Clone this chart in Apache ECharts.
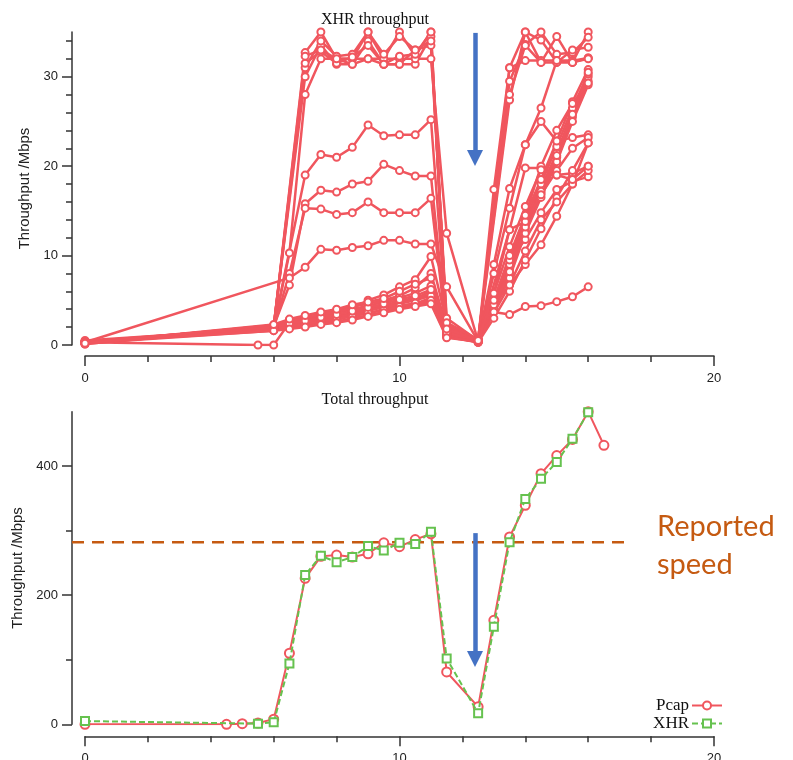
<!DOCTYPE html>
<html>
<head>
<meta charset="utf-8">
<script src="https://cdn.jsdelivr.net/npm/echarts@6/dist/echarts.min.js"></script>
<style>
  html, body { margin: 0; padding: 0; background: #fff; }
</style>
</head>
<body>
<div id="chart" style="width: 793px; height: 760px;"></div>
<script>
// time (s) of each XHR sample, shared by all flows of the top panel
const xhrTimes = [0, 5.5, 6, 6.5, 7, 7.5, 8, 8.5, 9, 9.5, 10, 10.5, 11, 11.5, 12.5, 13, 13.5, 14, 14.5, 15, 15.5, 16];
const n = null;

// per-flow XHR throughput (Mbps), null = no sample at that time
const flowH1 = [0.3, n, 2.0, n, 32.7, 35.0, 32.0, 32.0, 35.0, 32.0, 35.0, 32.3, 35.0, 1.5, 0.5, 17.4, 31.0, 35.0, 31.6, 34.5, 31.6, 35.0];
const flowH2 = [0.2, n, 2.2, n, 30.0, 33.5, 31.4, 31.4, 34.0, 31.4, 31.4, 31.4, 34.5, 2.0, 0.6, n, 29.5, 33.6, 35.0, 32.5, 32.7, 34.4];
const flowH3 = [0.4, n, 1.8, 10.3, 28.0, 32.0, 32.0, 32.0, 32.0, 32.0, 32.0, 32.0, 32.0, 12.5, 0.4, n, 27.4, 35.0, 34.1, 31.6, 33.0, 33.3];
const flowH4 = [0.3, n, 2.0, n, 31.0, 34.0, 32.3, 32.5, 35.0, 32.5, 34.5, 33.0, 33.5, 2.5, 0.5, n, 31.0, 31.8, 31.8, 31.8, 31.8, 32.1];
const flowH5 = [0.1, n, 2.1, n, 31.5, 32.8, 31.5, 32.2, 33.5, 31.4, 32.3, 32.5, 35.0, 1.8, 0.7, n, 28.0, 33.5, 31.6, 31.6, 31.6, 32.1];
const flowH6 = [0.3, n, 1.9, n, 32.3, 33.0, 32.0, 31.4, 32.0, 31.4, 31.4, 33.0, 34.0, 3.0, 0.5, 9.0, 17.5, 22.4, 26.5, 31.8, 31.6, 32.0];
const flowM1 = [0.3, n, 2.0, n, 19.0, 21.3, 21.0, 22.1, 24.6, 23.4, 23.5, 23.5, 25.2, 2.2, 0.5, 8.0, 15.3, 22.4, 25.0, 22.8, 23.2, 23.5];
const flowM2 = [0.2, n, 2.1, 6.7, 15.8, 17.3, 17.1, 18.0, 18.3, 20.2, 19.5, 18.9, 18.9, 1.6, 0.4, 5.8, 12.9, 19.8, 19.8, 19.0, 19.2, 20.0];
const flowM3 = [0.3, n, 1.9, 8.0, 15.3, 15.2, 14.6, 14.8, 16.0, 14.8, 14.8, 14.8, 16.4, 1.2, 0.5, 4.0, 9.5, 11.8, 14.8, 17.4, 18.3, 18.8];
const flowM4 = [0.3, n, n, 7.5, 8.7, 10.7, 10.6, 10.9, 11.1, 11.7, 11.7, 11.3, 11.3, 6.5, 0.4, 4.5, 6.7, 9.0, 11.2, 14.4, 18.0, 22.6];
const flowL1 = [0.3, 0.0, 0.0, 2.5, 2.8, 3.2, 3.0, 3.5, 3.8, 4.3, 4.8, 5.2, 6.0, 1.0, 0.3, 3.7, 3.4, 4.3, 4.4, 4.85, 5.4, 6.5];
const flowL2 = [0.2, n, 1.6, 2.0, 2.2, 2.6, 2.8, 3.3, 3.5, 4.0, 4.4, 4.6, 5.3, 1.1, 0.4, n, 8.0, 13.0, 17.0, 21.0, 25.5, 29.5];
const flowL3 = [0.4, n, 1.8, 2.2, 2.6, 2.9, 3.2, 3.6, 4.0, 4.4, 4.9, 5.3, 5.6, 1.3, 0.5, n, 8.5, 13.5, 17.5, 21.5, 26.0, 30.0];
const flowL4 = [0.1, n, 2.0, 2.5, 2.9, 3.3, 3.6, 4.0, 4.4, 4.8, 5.3, 5.8, 6.6, 1.5, 0.6, n, 9.0, 14.0, 18.0, 22.2, 26.5, 30.3];
const flowL5 = [0.3, n, 1.7, 1.9, 2.1, 2.4, 2.6, 3.0, 3.3, 3.7, 4.1, 4.5, 4.8, 0.9, 0.3, n, 7.5, 12.5, 16.5, 20.5, 25.0, 29.1];
const flowL6 = [0.2, n, 2.2, 2.8, 3.2, 3.6, 3.8, 4.3, 4.6, 5.0, 5.5, 6.4, 8.0, 2.0, 0.5, n, 9.5, 14.5, 18.5, 22.8, 27.2, 30.8];
const flowL7 = [0.5, n, 1.9, 2.3, 2.4, 2.8, 3.1, 3.4, 3.9, 4.2, 4.6, 5.0, 5.5, 1.2, 0.4, n, 8.2, 13.2, 17.2, 21.2, 25.8, 30.5];
const flowL8 = [0.3, n, 2.1, 2.6, 3.0, 3.4, 3.7, 4.1, 5.0, 5.6, 6.5, 7.3, 9.9, 2.5, 0.6, n, 12.9, 13.8, 16.8, 19.5, 22.0, 23.2];
const flowL9 = [0.2, n, 1.8, 2.1, 2.3, 2.7, 2.9, 3.2, 3.6, 3.9, 4.3, 4.7, 5.0, 1.0, 0.3, 3.0, 6.0, 9.5, 13.0, 16.5, 19.5, 22.6];
const flowL10 = [0.4, n, 2.0, 2.4, 2.7, 3.1, 3.4, 3.8, 4.2, 4.6, 5.1, 5.5, 6.2, 1.4, 0.5, n, 6.7, 10.5, 14.0, 16.0, 18.0, 19.5];
const flowL11 = [0.3, n, 1.6, 1.8, 2.0, 2.3, 2.5, 2.8, 3.2, 3.6, 4.0, 4.3, 4.6, 0.8, 0.4, 5.0, 10.0, 14.5, 20.0, 24.0, 27.0, 29.3];
const flowL12 = [0.2, n, 2.3, 2.9, 3.3, 3.7, 4.0, 4.5, 4.8, 5.2, 6.0, 6.8, 7.5, 1.8, 0.5, n, 11.0, 15.5, 19.6, 19.0, 18.5, 20.0];

const xhrFlows = [flowH1, flowH2, flowH3, flowH4, flowH5, flowH6, flowM1, flowM2, flowM3, flowM4,
  flowL1, flowL2, flowL3, flowL4, flowL5, flowL6, flowL7, flowL8, flowL9, flowL10, flowL11, flowL12];

// bottom panel: total throughput
const pcapTimes = [0, 4.5, 5, 5.5, 6, 6.5, 7, 7.5, 8, 8.5, 9, 9.5, 10, 10.5, 11, 11.5, 12.5, 13, 13.5, 14, 14.5, 15, 15.5, 16, 16.5];
const pcapRate = [0, 0, 1, 2, 8, 110, 226, 260, 262, 259, 264, 281, 275, 286, 295, 81, 27, 161, 290, 339, 388, 416, 441, 484, 432];
const xhrTotalTimes = [0, 5.5, 6, 6.5, 7, 7.5, 8, 8.5, 9, 9.5, 10, 10.5, 11, 11.5, 12.5, 13, 13.5, 14, 14.5, 15, 15.5, 16];
const xhrTotalRate = [5, 1, 3, 94, 231, 261, 251, 259, 276, 269, 281, 279, 298, 102, 17, 151, 282, 349, 380, 406, 442, 483];

// reported speed, drawn from the y axis line (x = -0.413) to x = 17.2
const reportedSpeed = 282;
const reportedSpan = [-0.413, 17.2];
const topArrow = [[12.4, 34.9], [12.4, 20.9]];
const bottomArrow = [[12.4, 296], [12.4, 101]];

// ticks
const xLabelTicks = [0, 10, 20];
const xMinorTicks = [2, 4, 6, 8, 12, 14, 16, 18];
const topYLabels = [0, 10, 20, 30];
const topYMinor = [2, 4, 6, 8, 12, 14, 16, 18, 22, 24, 26, 28, 32, 34];
const bottomYLabels = [0, 200, 400];
const bottomYMinor = [100, 300];

const RED = "#F0565E";
const GREEN = "#66C24F";
const ORANGE = "#C55A11";
const BLUE = "#4472C4";
const AXIS = "#333";

function mainAxis(extra) {
  return Object.assign({
    type: "value",
    axisLine: { show: true, onZero: false, lineStyle: { color: AXIS, width: 1.5 } },
    splitLine: { show: false },
  }, extra);
}

function minorAxis(extra, ticks) {
  return Object.assign({
    type: "value",
    axisLine: { show: false, onZero: false },
    splitLine: { show: false },
    axisLabel: { show: false },
    axisTick: { show: true, length: 6, customValues: ticks, lineStyle: { color: AXIS, width: 1.5 } },
  }, extra);
}

const chart = echarts.init(document.getElementById("chart"));

const topSeries = xhrFlows.map((flow, k) => ({
  name: "flow" + (k + 1),
  type: "line",
  xAxisIndex: 0,
  yAxisIndex: 0,
  data: xhrTimes.map((t, i) => [t, flow[i]]),
  connectNulls: true,
  symbol: "emptyCircle",
  symbolSize: 7,
  lineStyle: { color: RED, width: 2.5 },
  itemStyle: { color: RED, borderWidth: 0.8 },
  silent: true,
}));

topSeries[0].markLine = {
  silent: true,
  symbol: ["none", "triangle"],
  symbolSize: [16, 16],
  label: { show: false },
  lineStyle: { color: BLUE, width: 4.5, type: "solid" },
  data: [[{ coord: topArrow[0] }, { coord: topArrow[1] }]],
};

const labelStyle = { color: "#222", fontFamily: "Liberation Sans", fontSize: 13 };

const options = {
  animation: false,
  title: [
    {
      text: "XHR throughput", left: 370, top: 7, textAlign: "center",
      textStyle: { fontFamily: "Liberation Serif", fontSize: 16, fontWeight: "normal", color: "#111" },
    },
    {
      text: "Total throughput", left: 370, top: 387, textAlign: "center",
      textStyle: { fontFamily: "Liberation Serif", fontSize: 16, fontWeight: "normal", color: "#111" },
    },
  ],
  legend: {
    data: ["Pcap", "XHR"],
    orient: "vertical",
    align: "right",
    right: 65,
    top: 692,
    itemWidth: 30,
    itemHeight: 10,
    itemGap: 1,
    textStyle: { fontFamily: "Liberation Serif", fontSize: 17, lineHeight: 17, color: "#111", padding: [0, -2, 0, 0] },
  },
  grid: [
    { left: 85, right: 79, top: 32, height: 313, outerBoundsMode: "none" },
    { left: 85, right: 79, top: 411.7, height: 312.6, outerBoundsMode: "none" },
    // overlay grid that starts at the y axis line, used only for the reported-speed line
    { left: 72, right: 79, top: 411.7, height: 312.6, outerBoundsMode: "none" },
  ],
  xAxis: [
    mainAxis({
      gridIndex: 0, min: 0, max: 20, offset: 11,
      axisTick: { show: true, length: 10, customValues: xLabelTicks, lineStyle: { color: AXIS, width: 1.5 } },
      axisLabel: Object.assign({ margin: 16, customValues: xLabelTicks }, labelStyle),
    }),
    minorAxis({ gridIndex: 0, min: 0, max: 20, offset: 11, position: "bottom" }, xMinorTicks),
    mainAxis({
      gridIndex: 1, min: 0, max: 20, offset: 12,
      axisTick: { show: true, length: 10, customValues: xLabelTicks, lineStyle: { color: AXIS, width: 1.5 } },
      axisLabel: Object.assign({ margin: 16, customValues: xLabelTicks }, labelStyle),
    }),
    minorAxis({ gridIndex: 1, min: 0, max: 20, offset: 12, position: "bottom" }, xMinorTicks),
    { type: "value", gridIndex: 2, min: reportedSpan[0], max: 20, show: false },
  ],
  yAxis: [
    mainAxis({
      gridIndex: 0, min: 0, max: 35, offset: 13,
      name: "Throughput /Mbps", nameLocation: "middle", nameGap: 39,
      nameTextStyle: { fontFamily: "Liberation Sans", fontSize: 15, color: "#222" },
      axisTick: { show: true, length: 10, customValues: topYLabels, lineStyle: { color: AXIS, width: 1.5 } },
      axisLabel: Object.assign({ margin: 14, customValues: topYLabels }, labelStyle),
    }),
    minorAxis({ gridIndex: 0, min: 0, max: 35, offset: 13, position: "left" }, topYMinor),
    mainAxis({
      gridIndex: 1, min: 0, max: 484, offset: 13,
      name: "Throughput /Mbps", nameLocation: "middle", nameGap: 45,
      nameTextStyle: { fontFamily: "Liberation Sans", fontSize: 15, color: "#222" },
      axisTick: { show: true, length: 10, customValues: bottomYLabels, lineStyle: { color: AXIS, width: 1.5 } },
      axisLabel: Object.assign({ margin: 14, customValues: bottomYLabels }, labelStyle),
    }),
    minorAxis({ gridIndex: 1, min: 0, max: 484, offset: 13, position: "left" }, bottomYMinor),
    { type: "value", gridIndex: 2, min: 0, max: 484, show: false },
  ],
  graphic: [
    {
      type: "text", left: 657, top: 508, silent: true,
      style: { text: "Reported\nspeed", fill: ORANGE, font: "29px Lato", lineHeight: 38 },
    },
  ],
  series: topSeries.concat([
    {
      name: "reported",
      type: "line",
      xAxisIndex: 4,
      yAxisIndex: 4,
      data: reportedSpan.map((t) => [t, reportedSpeed]),
      symbol: "none",
      silent: true,
      lineStyle: { color: ORANGE, width: 2.5, type: [12, 8] },
      z: 1,
    },
    {
      name: "Pcap",
      type: "line",
      xAxisIndex: 2,
      yAxisIndex: 2,
      data: pcapTimes.map((t, i) => [t, pcapRate[i]]),
      symbol: "emptyCircle",
      symbolSize: 9,
      lineStyle: { color: RED, width: 2 },
      itemStyle: { color: RED, borderWidth: 1 },
      z: 3,
    },
    {
      name: "XHR",
      type: "line",
      xAxisIndex: 2,
      yAxisIndex: 2,
      data: xhrTotalTimes.map((t, i) => [t, xhrTotalRate[i]]),
      symbol: "emptyRect",
      symbolSize: 8,
      lineStyle: { color: GREEN, width: 2, type: [6, 3] },
      itemStyle: { color: GREEN, borderWidth: 1 },
      z: 4,
      markLine: {
        silent: true,
        symbol: ["none", "triangle"],
        symbolSize: [16, 16],
        label: { show: false },
        lineStyle: { color: BLUE, width: 4.5, type: "solid" },
        data: [[{ coord: bottomArrow[0] }, { coord: bottomArrow[1] }]],
      },
    },
  ]),
};

chart.setOption(options);
</script>
</body>
</html>
